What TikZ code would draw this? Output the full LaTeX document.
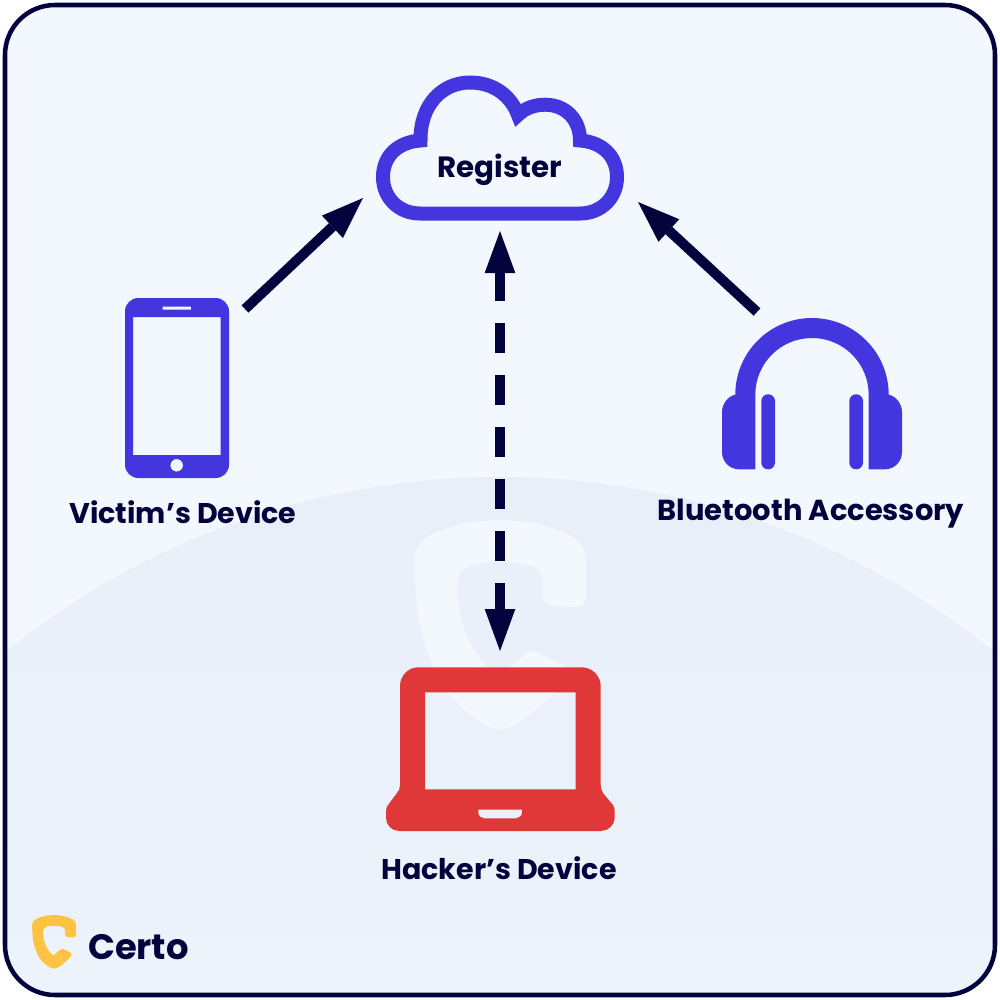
\documentclass[tikz,border=0pt]{standalone}
\usepackage{fontspec}
\usepackage{tikz}
\usetikzlibrary{arrows.meta}
\setmainfont{Poppins}
\definecolor{navy}{HTML}{02023D}
\definecolor{iconblue}{HTML}{4336DE}
\definecolor{laptopred}{HTML}{E03838}
\definecolor{skytop}{HTML}{F3F8FF}
\definecolor{hilltop}{HTML}{E8EFF9}
\definecolor{hillbottom}{HTML}{EDF3FB}
\definecolor{logoyellow}{HTML}{FFC344}
\tikzset{
  label/.style={font=\fontsize{21.4}{24}\selectfont\bfseries,text=navy,inner sep=0pt,anchor=base},
  flowtip/.tip={Triangle[length=31.5pt,width=23pt,line width=0pt]},
  flow/.style={draw=navy,line width=7.5pt,-flowtip},
  shield/.pic={
    \path[pic actions] (0,0) .. controls (30,0) and (58,8) .. (72,17) .. controls (82,23) and (86,30) .. (86,40)
      -- (86,74) .. controls (86,83) and (83,87) .. (75,87) -- (53,86) .. controls (47,85) and (43,81) .. (43,76)
      -- (43,65) .. controls (43,52) and (36,46) .. (28,45) .. controls (10,41) and (-10,41) .. (-27,45)
      .. controls (-38,47) and (-43,56) .. (-43,67) .. controls (-42,100) and (-30,135) .. (-3,158)
      -- (26,134) .. controls (29,131) and (33,131) .. (36,132) -- (62,145) .. controls (69,149) and (70,155) .. (66,160)
      .. controls (48,182) and (25,200) .. (8,208) .. controls (3,210) and (-3,210) .. (-8,208)
      .. controls (-35,195) and (-60,170) .. (-68,143) .. controls (-80,115) and (-85,90) .. (-85,40)
      .. controls (-85,30) and (-82,23) .. (-72,17) .. controls (-58,8) and (-30,0) .. (0,0) -- cycle;
  }
}
\begin{document}
\begin{tikzpicture}[x=0.75pt,y=-0.75pt]
\useasboundingbox (0,0) rectangle (1000,1000);

\begin{scope}
\clip[rounded corners=37.5pt] (5,5) rectangle (995,995);
\fill[skytop] (0,0) rectangle (1000,1000);
\clip (500,1264) circle (787);
\shade[top color=hilltop,bottom color=hillbottom] (0,477) rectangle (1000,1000);
\end{scope}
\draw[navy,line width=3.4pt,rounded corners=37.5pt] (5,5) rectangle (995,995);

\pic[fill=skytop] at (500,520) {shield};
\pic[fill=logoyellow,scale=0.257] at (54,915) {shield};

% cloud
\draw[iconblue,line width=10.5pt,miter limit=10,line cap=butt]
  (420.5,140.5) .. controls (420,105) and (442,82.5) .. (470,82.5)
  .. controls (494,82.5) and (511,96) .. (518,115)
  .. controls (525,108) and (535,104.7) .. (545,104.7)
  .. controls (566,104.7) and (580,120) .. (580,140.5)
  .. controls (602,142) and (617,156) .. (617,177)
  .. controls (617,198) and (601,213.5) .. (580,213.5)
  -- (420,213.5)
  .. controls (399,213.5) and (383,198) .. (383,177)
  .. controls (383,156) and (398,142) .. (420.5,140.5) -- cycle;
\node[label,font=\fontsize{22}{24}\selectfont\bfseries] (register) at (500,177) {Register};

% phone
\fill[iconblue,even odd rule] [rounded corners=10pt] (125,298) rectangle (229,478)
  [sharp corners] (133,317) rectangle (220.7,455)
  (162.7,306.7) rectangle (191,309.7)
  (176.7,465.3) circle (6.3);
\node[label] (victim) at (183,523) {Victim’s Device};

% headphones
\fill[iconblue] (735.3,394.7) arc (180:360:76.7) .. controls (896,396) and (902,404) .. (902,412)
  -- (902,452) .. controls (902,462) and (894,469.3) .. (885,469.3) -- (868.7,469.3) -- (868.7,394.7)
  arc (360:180:56.7) -- (755.3,469.3) -- (739,469.3) .. controls (730,469.3) and (722,462) .. (722,452)
  -- (722,412) .. controls (722,404) and (728,396) .. (735.3,394.7) -- cycle;
\fill[iconblue,rounded corners=5pt] (761.3,394.3) rectangle (775,469.3);
\fill[iconblue,rounded corners=5pt] (849.3,394.3) rectangle (863,469.3);
\node[label,font=\fontsize{21.7}{24}\selectfont\bfseries] (accessory) at (811,520) {Bluetooth Accessory};

% laptop
\fill[laptopred,even odd rule] (418,667.3) -- (582,667.3) .. controls (592,667.3) and (600.7,676) .. (600.7,686)
  -- (600.7,785) .. controls (600.7,788) and (602,791) .. (603,793) -- (613,805) .. controls (614,807) and (614.7,808) .. (614.7,811)
  -- (614.7,818) .. controls (614.7,825) and (608,831) .. (601,831) -- (399,831)
  .. controls (392,831) and (386,825) .. (386,818) -- (386,811) .. controls (386,808) and (387,807) .. (388,805)
  -- (397,793) .. controls (399,791) and (400,788) .. (400,785) -- (400,686)
  .. controls (400,676) and (408,667.3) .. (418,667.3) -- cycle
  (425,692.3) rectangle (575.7,789.3)
  (478.3,809.7) -- (522,809.7) -- (522,812) .. controls (522,816) and (519,818.3) .. (516,818.3)
  -- (484,818.3) .. controls (481,818.3) and (478.3,816) .. (478.3,812) -- cycle;
\node[label] (hacker) at (499,879) {Hacker’s Device};

\coordinate (phoneout) at (245,309);
\coordinate (cloudleft) at (363,198);
\coordinate (accessoryout) at (757,312);
\coordinate (cloudright) at (638,202);
\coordinate (cloudbottom) at (500,231);
\coordinate (laptoptop) at (500,651);
\draw[flow] (phoneout) -- (cloudleft);
\draw[flow] (accessoryout) -- (cloudright);
\draw[flow,flowtip-flowtip,dash pattern=on 22.5pt off 16.5pt,dash phase=1.5pt] (cloudbottom) -- (laptoptop);

\node[label,font=\fontsize{26.5}{30}\selectfont\bfseries] (certo) at (138.5,959) {Certo};
\end{tikzpicture}
\end{document}
